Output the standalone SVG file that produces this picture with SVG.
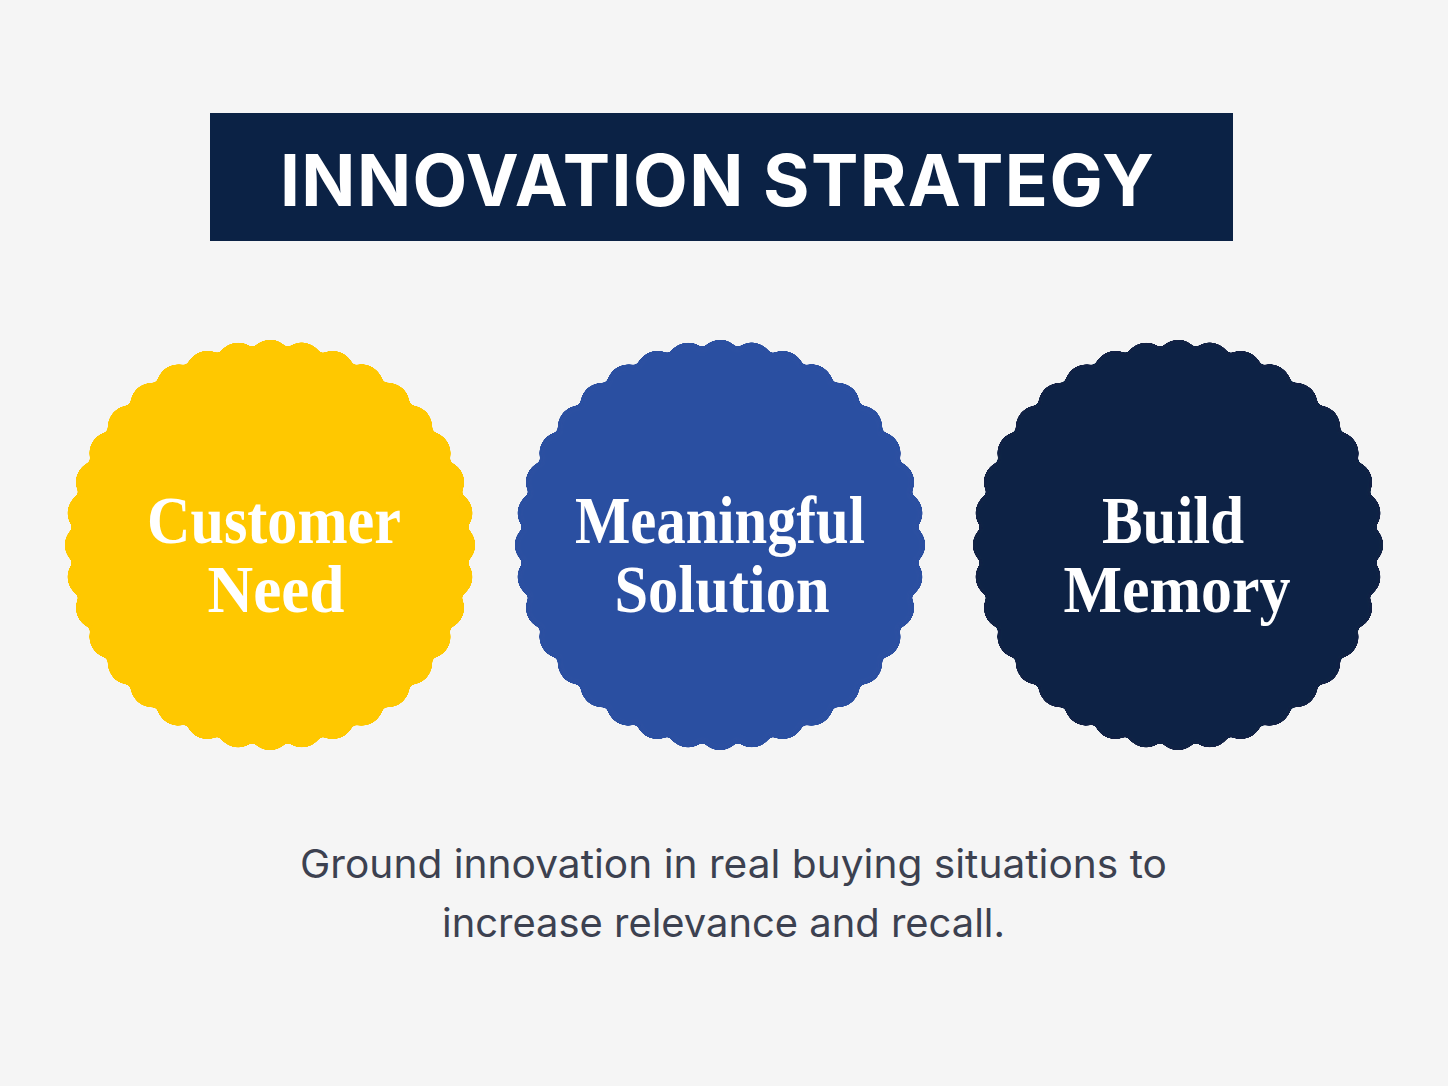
<svg xmlns="http://www.w3.org/2000/svg" width="1448" height="1086" viewBox="0 0 1448 1086">
  <style>
    .title { font-family: Inter, "Liberation Sans", sans-serif; font-weight: 700; font-size: 71px; fill: #ffffff; }
    .label { font-family: "Liberation Serif", "DejaVu Serif", serif; font-weight: 700; font-size: 68px; fill: #ffffff; text-anchor: middle; }
    .sub { font-family: Inter, "Liberation Sans", sans-serif; font-weight: 400; font-size: 39px; fill: #3c4150; }
  </style>
  <defs>
    <filter id="smooth" x="-10%" y="-10%" width="120%" height="120%">
      <feGaussianBlur in="SourceGraphic" stdDeviation="2.5" result="b"/>
      <feColorMatrix in="b" mode="matrix" values="1 0 0 0 0  0 1 0 0 0  0 0 1 0 0  0 0 0 20 -10"/>
    </filter>
    <path id="scallop" d="M198,0 A22,22 0 0 1 194.99,34.38 A22,22 0 0 1 186.06,67.72 A22,22 0 0 1 171.47,99 A22,22 0 0 1 151.68,127.27 A22,22 0 0 1 127.27,151.68 A22,22 0 0 1 99,171.47 A22,22 0 0 1 67.72,186.06 A22,22 0 0 1 34.38,194.99 A22,22 0 0 1 0,198 A22,22 0 0 1 -34.38,194.99 A22,22 0 0 1 -67.72,186.06 A22,22 0 0 1 -99,171.47 A22,22 0 0 1 -127.27,151.68 A22,22 0 0 1 -151.68,127.27 A22,22 0 0 1 -171.47,99 A22,22 0 0 1 -186.06,67.72 A22,22 0 0 1 -194.99,34.38 A22,22 0 0 1 -198,0 A22,22 0 0 1 -194.99,-34.38 A22,22 0 0 1 -186.06,-67.72 A22,22 0 0 1 -171.47,-99 A22,22 0 0 1 -151.68,-127.27 A22,22 0 0 1 -127.27,-151.68 A22,22 0 0 1 -99,-171.47 A22,22 0 0 1 -67.72,-186.06 A22,22 0 0 1 -34.38,-194.99 A22,22 0 0 1 0,-198 A22,22 0 0 1 34.38,-194.99 A22,22 0 0 1 67.72,-186.06 A22,22 0 0 1 99,-171.47 A22,22 0 0 1 127.27,-151.68 A22,22 0 0 1 151.68,-127.27 A22,22 0 0 1 171.47,-99 A22,22 0 0 1 186.06,-67.72 A22,22 0 0 1 194.99,-34.38 A22,22 0 0 1 198,0 Z"/>
  </defs>
  <rect x="0" y="0" width="1448" height="1086" fill="#f5f5f5"/>

  <g id="title">
    <rect x="210" y="113" width="1023" height="128" fill="#0b2245"/>
    <text class="title" x="280" y="206" textLength="874" lengthAdjust="spacing">INNOVATION STRATEGY</text>
  </g>

  <g id="customer-need">
    <use href="#scallop" fill="#ffc805" filter="url(#smooth)" transform="translate(270,545) rotate(5)"/>
    <text class="label" x="274" y="543" textLength="254" lengthAdjust="spacingAndGlyphs">Customer</text>
    <text class="label" x="276" y="612" textLength="137" lengthAdjust="spacingAndGlyphs">Need</text>
  </g>

  <g id="meaningful-solution">
    <use href="#scallop" fill="#2b4fa1" filter="url(#smooth)" transform="translate(720,545) rotate(5)"/>
    <text class="label" x="720" y="543" textLength="290" lengthAdjust="spacingAndGlyphs">Meaningful</text>
    <text class="label" x="722" y="612" textLength="215" lengthAdjust="spacingAndGlyphs">Solution</text>
  </g>

  <g id="build-memory">
    <use href="#scallop" fill="#0b2245" filter="url(#smooth)" transform="translate(1178,545) rotate(5)"/>
    <text class="label" x="1173" y="543" textLength="142" lengthAdjust="spacingAndGlyphs">Build</text>
    <text class="label" x="1177" y="612" textLength="227" lengthAdjust="spacingAndGlyphs">Memory</text>
  </g>

  <g id="connectors"></g>

  <g id="caption">
    <text class="sub" x="300" y="878" textLength="867" lengthAdjust="spacingAndGlyphs">Ground innovation in real buying situations to</text>
    <text class="sub" x="442" y="937" textLength="563" lengthAdjust="spacingAndGlyphs">increase relevance and recall.</text>
  </g>
</svg>
